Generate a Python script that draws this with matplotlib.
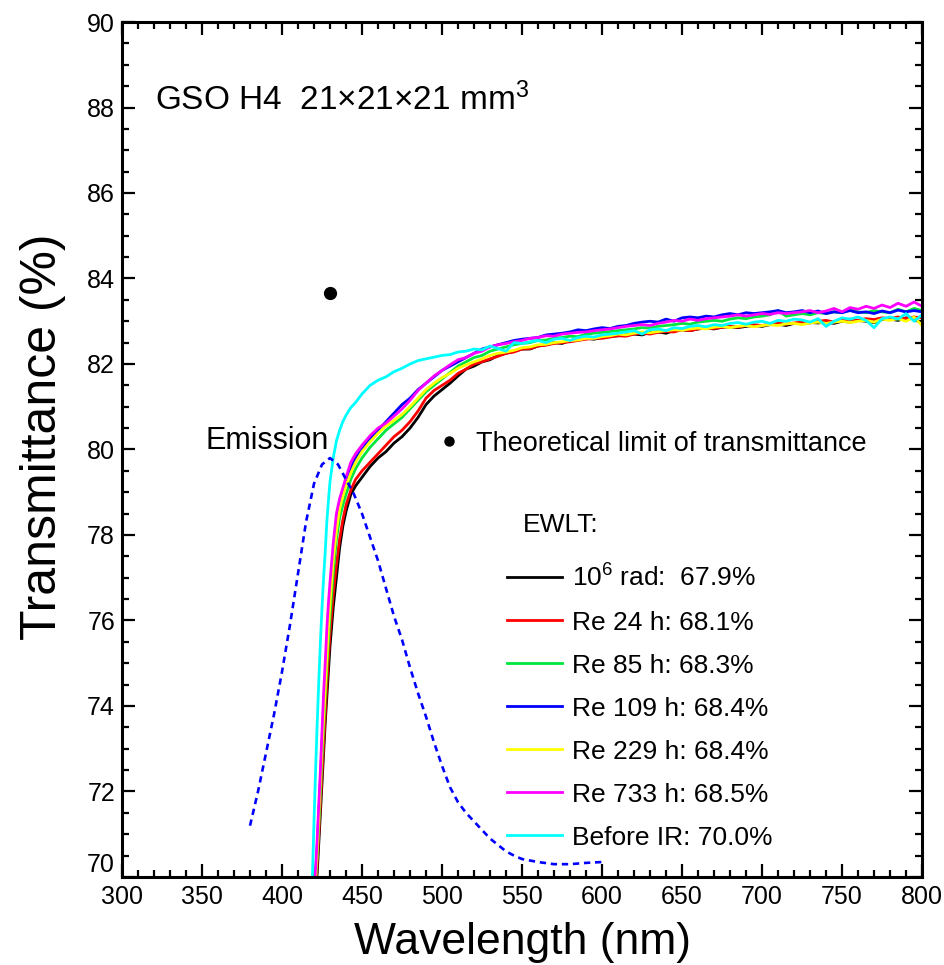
import matplotlib
matplotlib.use("Agg")
import matplotlib.pyplot as plt
from matplotlib.lines import Line2D
from matplotlib.ticker import MultipleLocator

plt.rcParams['font.family'] = ['Liberation Sans', 'DejaVu Sans']
plt.rcParams['mathtext.fontset'] = 'custom'
plt.rcParams['mathtext.rm'] = 'Liberation Sans'
plt.rcParams['mathtext.it'] = 'Liberation Sans:italic'
plt.rcParams['mathtext.bf'] = 'Liberation Sans:bold'

# ---- transmittance spectra (%), common wavelength grid (nm) ----
wavelength = [418, 419, 420, 421, 422, 423, 424, 425, 426, 427,
              428, 429, 430, 432, 434, 436, 438, 440, 443, 446] + list(range(450, 801, 5))

t_rad = [68.0, 68.5, 69.1, 69.6, 70.1, 70.8, 71.5, 72.2, 72.9, 73.6,
         74.2, 74.8, 75.4, 76.3, 77.0, 77.7, 78.2, 78.55, 78.95, 79.15,
         79.35, 79.6, 79.8, 79.95, 80.15, 80.3, 80.5, 80.75, 81.05, 81.25,
         81.4, 81.55, 81.72, 81.88, 81.95, 82.05, 82.1, 82.2, 82.25, 82.3,
         82.35, 82.35, 82.42, 82.45, 82.5, 82.48, 82.55, 82.56, 82.6, 82.58,
         82.62, 82.65, 82.66, 82.68, 82.7, 82.68, 82.74, 82.75, 82.72, 82.78,
         82.8, 82.78, 82.82, 82.84, 82.82, 82.86, 82.87, 82.85, 82.88, 82.9,
         82.88, 82.92, 82.93, 82.9, 82.95, 82.94, 82.97, 82.96, 82.98, 82.95,
         83.0, 82.98, 83.02, 83.0, 82.97, 83.04, 83.05, 83.02, 83.08, 83.06,
         83.1]

t_re24 = [67.9, 68.5, 69.1, 69.7, 70.3, 71.0, 71.7, 72.4, 73.1, 73.8,
          74.5, 75.1, 75.7, 76.6, 77.3, 77.9, 78.35, 78.7, 79.05, 79.3,
          79.5, 79.7, 79.9, 80.1, 80.3, 80.45, 80.65, 80.9, 81.2, 81.38,
          81.5, 81.62, 81.78, 81.88, 82.0, 82.05, 82.12, 82.18, 82.25, 82.28,
          82.35, 82.36, 82.42, 82.44, 82.48, 82.5, 82.52, 82.55, 82.58, 82.6,
          82.6, 82.63, 82.66, 82.65, 82.7, 82.72, 82.7, 82.74, 82.76, 82.75,
          82.8, 82.78, 82.82, 82.84, 82.83, 82.86, 82.88, 82.86, 82.9, 82.92,
          82.9, 82.94, 82.96, 82.93, 82.96, 82.98, 82.96, 83.0, 83.02, 82.98,
          83.02, 83.05, 83.02, 83.06, 83.04, 83.08, 83.06, 83.1, 83.06, 83.1,
          83.08]

t_re85 = [68.2, 68.7, 69.3, 69.9, 70.5, 71.2, 72.0, 72.8, 73.5, 74.2,
          74.9, 75.5, 76.1, 77.1, 77.9, 78.4, 78.7, 78.95, 79.3, 79.55,
          79.8, 80.05, 80.25, 80.45, 80.6, 80.75, 80.95, 81.15, 81.35, 81.5,
          81.65, 81.8, 81.95, 82.05, 82.15, 82.2, 82.3, 82.35, 82.4, 82.45,
          82.48, 82.5, 82.55, 82.56, 82.6, 82.62, 82.65, 82.64, 82.7, 82.72,
          82.74, 82.76, 82.78, 82.8, 82.82, 82.85, 82.84, 82.88, 82.9, 82.92,
          82.95, 82.93, 82.98, 83.0, 83.02, 83.0, 83.05, 83.08, 83.06, 83.1,
          83.12, 83.15, 83.25, 83.12, 83.15, 83.18, 83.15, 83.2, 83.18, 83.22,
          83.2, 83.28, 83.22, 83.2, 83.25, 83.22, 83.2, 83.28, 83.22, 83.3,
          83.25]

t_re109 = [68.4, 68.9, 69.5, 70.1, 70.7, 71.5, 72.3, 73.1, 73.9, 74.6,
           75.4, 76.0, 76.6, 77.6, 78.3, 78.7, 79.0, 79.25, 79.55, 79.8,
           80.0, 80.25, 80.45, 80.65, 80.85, 81.05, 81.2, 81.4, 81.55, 81.7,
           81.85, 81.95, 82.05, 82.15, 82.25, 82.35, 82.4, 82.45, 82.5, 82.55,
           82.58, 82.6, 82.62, 82.68, 82.7, 82.72, 82.75, 82.8, 82.78, 82.82,
           82.85, 82.83, 82.88, 82.9, 82.95, 82.98, 83.0, 82.98, 83.05, 83.0,
           83.08, 83.1, 83.08, 83.12, 83.1, 83.15, 83.18, 83.15, 83.2, 83.18,
           83.2, 83.22, 83.25, 83.2, 83.22, 83.25, 83.2, 83.24, 83.18, 83.22,
           83.2, 83.25, 83.2, 83.22, 83.18, 83.24, 83.2, 83.26, 83.22, 83.25,
           83.22]

t_re229 = [68.3, 68.8, 69.4, 70.0, 70.6, 71.4, 72.2, 73.0, 73.7, 74.4,
           75.1, 75.8, 76.4, 77.4, 78.1, 78.6, 78.9, 79.15, 79.45, 79.7,
           79.95, 80.18, 80.38, 80.55, 80.68, 80.82, 81.0, 81.2, 81.4, 81.55,
           81.68, 81.78, 81.9, 81.98, 82.05, 82.12, 82.2, 82.25, 82.28, 82.32,
           82.38, 82.4, 82.45, 82.46, 82.5, 82.52, 82.55, 82.56, 82.6, 82.6,
           82.64, 82.66, 82.7, 82.68, 82.72, 82.75, 82.73, 82.76, 82.78, 82.8,
           82.79, 82.82, 82.84, 82.82, 82.86, 82.88, 82.85, 82.88, 82.9, 82.87,
           82.9, 82.92, 82.9, 82.94, 82.95, 82.92, 82.96, 82.98, 82.95, 82.98,
           83.0, 82.97, 83.0, 83.02, 82.98, 83.05, 83.02, 83.06, 83.0, 83.1,
           82.9]

t_re733 = [68.6, 69.1, 69.7, 70.2, 70.9, 71.7, 72.5, 73.4, 74.3, 75.0,
           75.8, 76.4, 76.9, 77.8, 78.5, 78.85, 79.1, 79.35, 79.7, 79.9,
           80.1, 80.32, 80.5, 80.62, 80.78, 80.95, 81.15, 81.38, 81.55, 81.72,
           81.85, 81.98, 82.1, 82.15, 82.25, 82.3, 82.4, 82.45, 82.48, 82.52,
           82.55, 82.6, 82.62, 82.66, 82.65, 82.7, 82.72, 82.74, 82.75, 82.78,
           82.8, 82.82, 82.85, 82.88, 82.9, 82.92, 82.9, 82.95, 82.98, 83.02,
           83.0, 83.05, 83.02, 83.06, 83.08, 83.1, 83.12, 83.15, 83.12, 83.15,
           83.18, 83.16, 83.2, 83.18, 83.2, 83.22, 83.25, 83.2, 83.24, 83.3,
           83.22, 83.32, 83.28, 83.35, 83.3, 83.38, 83.32, 83.42, 83.35, 83.45,
           83.35]

t_before = [69.3, 70.0, 71.3, 72.5, 73.6, 74.6, 75.5, 76.3, 77.0, 77.6,
            78.3, 78.8, 79.25, 79.8, 80.2, 80.45, 80.65, 80.8, 80.98, 81.1,
            81.3, 81.5, 81.62, 81.7, 81.82, 81.9, 82.0, 82.08, 82.12, 82.16,
            82.2, 82.22, 82.28, 82.3, 82.35, 82.33, 82.42, 82.36, 82.3, 82.5,
            82.48, 82.52, 82.55, 82.5, 82.58, 82.6, 82.55, 82.62, 82.65, 82.63,
            82.68, 82.7, 82.72, 82.75, 82.78, 82.7, 82.8, 82.82, 82.78, 82.85,
            82.83, 82.88, 82.9, 82.87, 82.92, 82.9, 82.95, 82.97, 82.93, 82.98,
            83.0, 82.95, 83.02, 83.0, 83.05, 83.03, 82.98, 83.06, 82.88, 83.0,
            83.08, 83.05, 83.1, 83.02, 82.85, 83.06, 83.1, 83.05, 83.18, 83.0,
            83.15]

series_labels = [r'10$^{6}$ rad:  67.9%', 'Re 24 h: 68.1%', 'Re 85 h: 68.3%',
                 'Re 109 h: 68.4%', 'Re 229 h: 68.4%', 'Re 733 h: 68.5%',
                 'Before IR: 70.0%']
series_values = [t_rad, t_re24, t_re85, t_re109, t_re229, t_re733, t_before]
series_colors = ['#000000', '#ff0000', '#00e63c', '#0000ff', '#ffff00',
                 '#ff00ff', '#00ffff']

# ---- scaled emission spectrum ----
emission_wl = [380, 385, 390, 395, 400, 405, 410, 415, 420, 425,
               430, 435, 440, 445, 450, 455, 460, 465, 470, 475,
               480, 485, 490, 495, 500, 505, 510, 515, 520, 525,
               530, 535, 540, 545, 550, 560, 570, 580, 590, 600]
emission_t = [71.2, 72.0, 72.9, 73.8, 74.8, 75.9, 77.1, 78.3, 79.2, 79.65,
              79.8, 79.65, 79.3, 78.95, 78.5, 77.95, 77.4, 76.75, 76.1, 75.55,
              74.9, 74.3, 73.75, 73.15, 72.6, 72.1, 71.75, 71.5, 71.3, 71.1,
              70.9, 70.75, 70.6, 70.5, 70.42, 70.35, 70.3, 70.3, 70.33, 70.35]

# ---- theoretical transmittance limit ----
limit_wl = [430]
limit_t = [83.65]

fig = plt.figure(figsize=(9.45, 9.65), dpi=100)
ax = fig.add_axes([0.1291, 0.0912, 0.8466, 0.886])

handles = []
for vals, lab, col in zip(series_values, series_labels, series_colors):
    h, = ax.plot(wavelength, vals, color=col, lw=2.0, label=lab)
    handles.append(h)

ax.plot(emission_wl, emission_t, color='#0000ff', lw=1.9, ls=(0, (2.4, 1.8)))
ax.plot(limit_wl, limit_t, 'o', color='black', ms=8.5)

ax.set_xlim(300, 800)
ax.set_ylim(70, 90)
ax.xaxis.set_major_locator(MultipleLocator(50))
ax.xaxis.set_minor_locator(MultipleLocator(10))
ax.yaxis.set_major_locator(MultipleLocator(2))
ax.yaxis.set_minor_locator(MultipleLocator(0.5))
ax.tick_params(which='both', direction='in', top=True, right=True, width=1.6)
ax.tick_params(which='major', length=9.5, labelsize=18)
ax.tick_params(which='minor', length=5)
ax.tick_params(axis='y', pad=5)
ax.tick_params(axis='x', pad=6)
for sp in ax.spines.values():
    sp.set_linewidth(2.2)

ax.set_xlabel('Wavelength (nm)', fontsize=32, labelpad=9)
ax.set_ylabel('Transmittance (%)', fontsize=36)
ax.yaxis.set_label_coords(-0.07, 0.5146)

ax.text(0.041, 0.909, r'GSO H4  21$\times$21$\times$21 mm$^{3}$',
        transform=ax.transAxes, fontsize=24, va='center', ha='left')
ax.text(351.9, 80.2, 'Emission', fontsize=22, va='center', ha='left')

# legend for the curves
ax.text(0.501, 0.4117, 'EWLT:', transform=ax.transAxes, fontsize=19,
        va='center', ha='left')
leg = ax.legend(handles=handles, loc='upper left', bbox_to_anchor=(0.481, 0.3655),
                frameon=False, fontsize=19, handlelength=2.08, handletextpad=0.38,
                labelspacing=0.72, borderpad=0, borderaxespad=0)
ax.add_artist(leg)

# legend entry for the theoretical limit marker
dot = Line2D([], [], marker='o', ls='none', color='black', ms=6.5)
ax.legend(handles=[dot], labels=['Theoretical limit of transmittance'],
          loc='center left', bbox_to_anchor=(0.392, 0.507), frameon=False,
          fontsize=19.5, handlelength=1.0, handletextpad=0.5,
          borderpad=0, borderaxespad=0)

# lift the lowest y tick label clear of the x tick labels
fig.canvas.draw()
for tick in ax.yaxis.get_major_ticks():
    if abs(tick.get_loc() - 70) < 1e-9:
        tick.label1.set_verticalalignment('bottom')

fig.savefig('out.png', dpi=100)
